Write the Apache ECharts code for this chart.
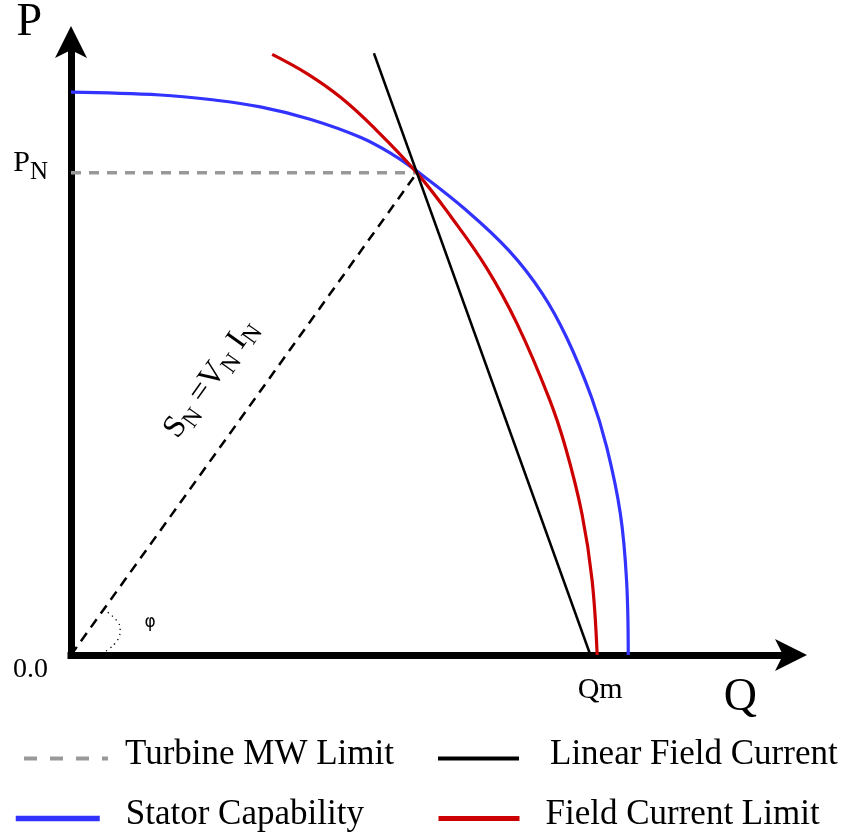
<!DOCTYPE html>
<html>
<head>
<meta charset="utf-8">
<script src="https://cdn.jsdelivr.net/npm/echarts@6/dist/echarts.min.js"></script>
<style>html,body{margin:0;padding:0;background:#fff;}#c{width:845px;height:832px;}</style>
</head>
<body>
<div id="c"></div>
<script>
// ---- data (per-unit Q, P) ----
const P_N = 0.855;           // rated active power
const Q_M = 0.931;           // max reactive power at P = 0
const turbineLimit = [[0, 0.855], [0.612, 0.855]];
const linearField = [[0.536, 1.067], [0.919, 0]];
const statorCapability = [[0, 0.998], [0.158, 0.993], [0.246, 0.985], [0.335, 0.972], [0.423, 0.950],
  [0.512, 0.918], [0.570, 0.887], [0.612, 0.858], [0.699, 0.789], [0.775, 0.717], [0.834, 0.641],
  [0.877, 0.563], [0.921, 0.457], [0.948, 0.368], [0.972, 0.251], [0.983, 0.133], [0.986, 0]];
const fieldCurrentLimit = [[0.356, 1.065], [0.419, 1.030], [0.478, 0.988], [0.536, 0.935], [0.612, 0.855],
  [0.674, 0.775], [0.735, 0.687], [0.789, 0.588], [0.846, 0.455], [0.875, 0.368], [0.904, 0.251],
  [0.922, 0.133], [0.931, 0]];
const ratedApparent = [[0, 0], [0.612, 0.855]];
const phiArc = [[0.062, 0.007], [0.069, 0.012], [0.078, 0.021], [0.085, 0.032], [0.087, 0.044],
  [0.083, 0.058], [0.065, 0.076]];
const yTickValues = [0, P_N];
const xTickValues = [Q_M];
const sLabelPos = [0.26, 0.481];
const phiLabelPos = [0.14, 0.057];

const SERIF = 'Liberation Serif';
const chart = echarts.init(document.getElementById('c'), null, {renderer: 'canvas'});

function legendAt(name, left, top, w, textPadLeft, lw, type) {
  return {
    data: [name], left: left, top: top, orient: 'horizontal', padding: 0,
    itemWidth: w, itemHeight: 14, selectedMode: false,
    itemStyle: {opacity: 0},
    lineStyle: {width: lw, type: type || 'inherit'},
    formatter: '{t|{name}}',
    textStyle: {fontFamily: SERIF, fontSize: 35, color: '#000',
      rich: {t: {fontFamily: SERIF, fontSize: 35, color: '#000', padding: [0, 0, 8, textPadLeft]}}}
  };
}

const option = {
  animation: false,
  backgroundColor: '#fff',
  grid: {left: 71, right: 54, top: 41, bottom: 177, containLabel: false},
  legend: [
    legendAt('Turbine MW Limit', 22, 737, 84, 12, 4, [13, 13]),
    legendAt('Linear Field Current', 436, 737, 81, 26, 4),
    legendAt('Stator Capability', 13, 797, 84, 21, 5.5),
    legendAt('Field Current Limit', 436, 797, 81, 21, 5)
  ],
  xAxis: {
    type: 'value', min: 0, max: 1.274,
    name: '{q|Q}', nameLocation: 'end', nameGap: 0,
    nameTextStyle: {align: 'right', verticalAlign: 'middle',
      rich: {q: {fontFamily: SERIF, fontSize: 46, color: '#000', padding: [86, 34, 0, 0]}}},
    axisLine: {show: true, onZero: false, symbol: ['none', 'arrow'], symbolSize: [24, 32], symbolOffset: [0, 16],
      lineStyle: {color: '#000', width: 7, cap: 'square'}},
    axisTick: {show: false},
    splitLine: {show: false},
    axisLabel: {show: true, customValues: xTickValues, margin: 20, formatter: function () { return '{q|Qm}'; },
      rich: {q: {fontFamily: SERIF, fontSize: 30, color: '#000', padding: [0, 0, 0, 6]}}}
  },
  yAxis: {
    type: 'value', min: 0, max: 1.087,
    name: 'P', nameLocation: 'end', nameGap: 19,
    nameTextStyle: {fontFamily: SERIF, fontSize: 46, color: '#000', align: 'right', verticalAlign: 'middle', padding: [0, 29, 0, 0]},
    axisLine: {show: true, onZero: false, symbol: ['none', 'arrow'], symbolSize: [24, 32], symbolOffset: [0, 16],
      lineStyle: {color: '#000', width: 7, cap: 'square'}},
    axisTick: {show: false},
    splitLine: {show: false},
    axisLabel: {show: true, customValues: yTickValues, margin: 23,
      formatter: function (v) { return v === 0 ? '{z|0.0}' : '{p|P}{n|N}'; },
      rich: {
        z: {fontFamily: SERIF, fontSize: 28, color: '#000', padding: [30, 0, 0, 0]},
        p: {fontFamily: SERIF, fontSize: 30, color: '#000', lineHeight: 30, verticalAlign: 'top'},
        n: {fontFamily: SERIF, fontSize: 25, color: '#000', lineHeight: 50, verticalAlign: 'middle'}
      }}
  },
  series: [
    {name: 'Turbine MW Limit', type: 'line', data: turbineLimit, symbol: 'none', z: 2,
      lineStyle: {color: '#999999', width: 3.5, type: [10, 8]}, itemStyle: {color: '#999999'}},
    {name: 'S_N', type: 'line', data: ratedApparent, symbol: 'none', z: 2,
      lineStyle: {color: '#000', width: 2.5, type: [10, 7]}, itemStyle: {color: '#000'}},
    {name: 'phi', type: 'line', data: phiArc, symbol: 'none', smooth: true, z: 2,
      lineStyle: {color: '#000', width: 1.3, type: [1.3, 4]}, itemStyle: {color: '#000'}},
    {name: 'Stator Capability', type: 'line', data: statorCapability, symbol: 'none', smooth: 0.4, z: 3,
      lineStyle: {color: '#3333ff', width: 3.2}, itemStyle: {color: '#3333ff'}},
    {name: 'Field Current Limit', type: 'line', data: fieldCurrentLimit, symbol: 'none', smooth: 0.4, z: 4,
      lineStyle: {color: '#cc0000', width: 3.2}, itemStyle: {color: '#cc0000'}},
    {name: 'Linear Field Current', type: 'line', data: linearField, symbol: 'none', z: 5,
      lineStyle: {color: '#000', width: 2.5}, itemStyle: {color: '#000'}},
    {name: 'labels', type: 'scatter', symbolSize: 0, silent: true, z: 6,
      itemStyle: {color: '#000', opacity: 1},
      data: [
        {value: sLabelPos, label: {show: true, position: 'inside', rotate: 54.5,
          textBorderWidth: 0, textBorderColor: 'transparent',
          formatter: '{m|S}{s|N}{m| =V}{s|N}{m| I}{s|N}',
          rich: {
            m: {fontFamily: SERIF, fontSize: 32, color: '#000', lineHeight: 32, verticalAlign: 'top', textBorderWidth: 0},
            s: {fontFamily: SERIF, fontSize: 24, color: '#000', lineHeight: 50, verticalAlign: 'middle', textBorderWidth: 0}
          }}},
        {value: phiLabelPos, label: {show: true, position: 'inside', formatter: 'φ',
          textBorderWidth: 0, textBorderColor: 'transparent',
          fontFamily: 'DejaVu Sans', fontSize: 17, color: '#000'}}
      ]}
  ]
};
chart.setOption(option);
</script>
</body>
</html>
